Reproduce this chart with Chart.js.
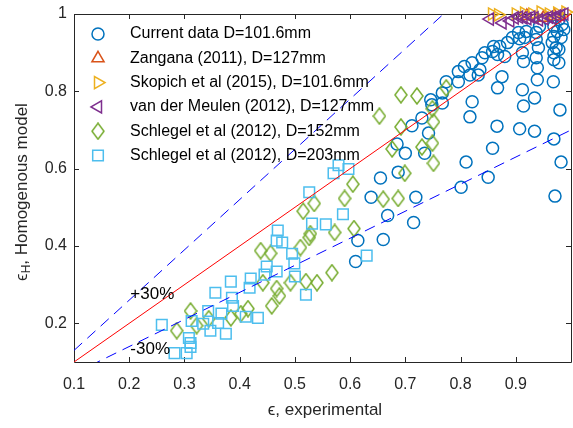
<!DOCTYPE html>
<html>
<head>
<meta charset="utf-8">
<script src="https://cdn.jsdelivr.net/npm/chart.js@4.4.1/dist/chart.umd.min.js"></script>
<style>
  html, body { margin: 0; padding: 0; background: #fff; overflow: hidden; }
  #contenedor { width: 573px; height: 428px; overflow: hidden; position: relative; }
  #grafico { position: absolute; left: 0; top: 0; width: 580px; height: 428px; }
</style>
</head>
<body>
<div id="contenedor"><canvas id="grafico" width="580" height="428"></canvas></div>
<script>
// Current data D=101.6mm
let currentX = [0.610, 0.614, 0.660, 0.668, 0.638, 0.715, 0.719, 0.655, 0.687, 0.700,
                0.735, 0.685, 0.742, 0.712, 0.730, 0.746, 0.748, 0.767, 0.767, 0.774,
                0.796, 0.796, 0.807, 0.821, 0.817, 0.835, 0.832, 0.821, 0.817, 0.810,
                0.801, 0.850, 0.858, 0.866, 0.907, 0.934, 0.969, 0.982, 0.971, 0.867,
                0.875, 0.912, 0.934, 0.914, 0.939, 0.939, 0.968, 0.980, 0.844, 0.839,
                0.860, 0.858, 0.867, 0.871, 0.880, 0.885, 0.894, 0.907, 0.916, 0.905,
                0.919, 0.937, 0.943, 0.937, 0.941, 0.912, 0.914, 0.937, 0.969, 0.975,
                0.984, 0.987, 0.969, 0.982, 0.966, 0.973, 0.978, 0.969, 0.969, 0.978,
                0.978];
let currentY = [0.360, 0.414, 0.417, 0.479, 0.526, 0.461, 0.526, 0.576, 0.591, 0.640,
                0.640, 0.664, 0.692, 0.711, 0.731, 0.778, 0.765, 0.796, 0.770, 0.825,
                0.825, 0.851, 0.864, 0.874, 0.842, 0.856, 0.842, 0.773, 0.734, 0.617,
                0.552, 0.578, 0.653, 0.710, 0.703, 0.697, 0.677, 0.617, 0.529, 0.809,
                0.838, 0.804, 0.783, 0.762, 0.830, 0.861, 0.825, 0.752, 0.900, 0.887,
                0.916, 0.903, 0.895, 0.916, 0.890, 0.926, 0.939, 0.936, 0.939, 0.952,
                0.955, 0.952, 0.968, 0.934, 0.913, 0.900, 0.877, 0.887, 0.968, 0.955,
                0.973, 0.960, 0.942, 0.939, 0.926, 0.913, 0.908, 0.900, 0.882, 0.874,
                0.986];

// Zangana (2011), D=127mm
let zanganaX = [0.920, 0.950, 0.970];
let zanganaY = [0.995, 0.990, 0.995];

// Skopich et al (2015), D=101.6mm
let skopichX = [0.857, 0.868, 0.900, 0.915, 0.930, 0.945, 0.960, 0.975, 0.990];
let skopichY = [1.000, 0.998, 1.000, 1.002, 1.000, 1.005, 1.000, 1.002, 1.005];

// van der Meulen (2012), D=127mm
let meulenX = [0.853, 0.876, 0.890, 0.898, 0.906, 0.914, 0.921, 0.928, 0.934, 0.942,
               0.952, 0.960, 0.966, 0.975, 0.982, 0.988];
let meulenY = [0.987, 0.977, 0.982, 0.990, 0.992, 0.990, 0.988, 0.992, 0.990, 0.985,
               0.988, 0.992, 0.990, 0.995, 0.997, 1.000];

// Schlegel et al (2012), D=152mm
let schlegel152X = [0.286, 0.311, 0.322, 0.344, 0.384, 0.402, 0.415, 0.438, 0.456, 0.442,
                    0.467, 0.458, 0.472, 0.492, 0.510, 0.515, 0.526, 0.528, 0.535, 0.520,
                    0.540, 0.567, 0.572, 0.590, 0.605, 0.607, 0.653, 0.660, 0.687, 0.676,
                    0.699, 0.692, 0.721, 0.692, 0.730, 0.749, 0.749, 0.751, 0.751, 0.774];
let schlegel152Y = [0.181, 0.232, 0.194, 0.212, 0.214, 0.225, 0.238, 0.388, 0.381, 0.305,
                    0.290, 0.245, 0.271, 0.305, 0.396, 0.490, 0.422, 0.432, 0.510, 0.308,
                    0.305, 0.331, 0.435, 0.523, 0.560, 0.445, 0.736, 0.521, 0.523, 0.651,
                    0.588, 0.791, 0.788, 0.708, 0.656, 0.666, 0.755, 0.721, 0.614, 0.809];

// Schlegel et al (2012), D=203mm
let schlegel203X = [0.259, 0.282, 0.304, 0.308, 0.311, 0.311, 0.313, 0.334, 0.343, 0.347,
                    0.356, 0.361, 0.367, 0.375, 0.384, 0.386, 0.388, 0.411, 0.418, 0.420,
                    0.433, 0.445, 0.449, 0.467, 0.467, 0.469, 0.477, 0.495, 0.499, 0.500,
                    0.520, 0.526, 0.531, 0.556, 0.579, 0.570, 0.597, 0.587, 0.630];
let schlegel203Y = [0.196, 0.123, 0.123, 0.162, 0.149, 0.139, 0.206, 0.199, 0.232, 0.181,
                    0.279, 0.201, 0.225, 0.173, 0.308, 0.266, 0.245, 0.217, 0.292, 0.316,
                    0.214, 0.326, 0.347, 0.334, 0.414, 0.440, 0.409, 0.380, 0.355, 0.321,
                    0.274, 0.539, 0.458, 0.456, 0.609, 0.588, 0.599, 0.482, 0.375];

// Lineas de referencia (1:1 y +/-30%)
let refX = [0.1, 1.0];
let refY = [0.1, 1.0];
let plus30Y = [0.13, 1.3];
let minus30Y = [0.07, 0.7];

// Textos sobre el grafico
let notaTexto = ["+30%", "-30%"];
let notaX = [0.202, 0.202];
let notaY = [0.276, 0.134];

// Ticks de los ejes (el rotulo 1 del eje x queda fuera de la figura)
let ticksX = [0.1, 0.2, 0.3, 0.4, 0.5, 0.6, 0.7, 0.8, 0.9, 1.0];
let ticksXLabels = ["0.1", "0.2", "0.3", "0.4", "0.5", "0.6", "0.7", "0.8", "0.9", ""];
let ticksY = [0.2, 0.4, 0.6, 0.8, 1.0];
let ticksYLabels = ["0.2", "0.4", "0.6", "0.8", "1"];

const FUENTE = "'Liberation Sans', Arial, Helvetica, sans-serif";
// borde derecho del area de ejes (queda fuera de la ventana, como en la figura original)
const BORDE_DERECHO = 577;

function puntos(xs, ys){
	return xs.map((x, i) => ({x: x, y: ys[i]}));
}

// Marcador de diamante (mas alto que ancho, como en MATLAB)
function marcaDiamante(color){
	let c = document.createElement("canvas");
	c.width = 14;
	c.height = 18;
	let g = c.getContext("2d");
	g.strokeStyle = color;
	g.lineWidth = 1.5;
	g.beginPath();
	g.moveTo(7, 1);
	g.lineTo(13, 9);
	g.lineTo(7, 17);
	g.lineTo(1, 9);
	g.closePath();
	g.stroke();
	return c;
}

function serie(label, xs, ys, color, estilo, radio, rotacion, orden){
	return {
		type: "scatter",
		label: label,
		data: puntos(xs, ys),
		borderColor: color,
		backgroundColor: "rgba(0,0,0,0)",
		borderWidth: 1.5,
		pointStyle: estilo,
		pointRadius: radio,
		pointRotation: rotacion,
		clip: false,
		order: orden
	};
}

function linea(xs, ys, color, guiones){
	return {
		type: "line",
		data: puntos(xs, ys),
		borderColor: color,
		borderWidth: 1,
		borderDash: guiones,
		pointRadius: 0,
		fill: false,
		order: 0
	};
}

// Marco de los ejes con ticks hacia adentro
const marco = {
	id: "marco",
	beforeDatasetsDraw(chart){
		const ctx = chart.ctx;
		const a = chart.chartArea;
		const sx = chart.scales.x, sy = chart.scales.y;
		ctx.save();
		ctx.strokeStyle = "#262626";
		ctx.lineWidth = 1;
		ctx.beginPath();
		ctx.rect(Math.round(a.left) + 0.5, Math.round(a.top) + 0.5,
		         Math.round(a.right - a.left), Math.round(a.bottom - a.top));
		ticksX.forEach(v => {
			let px = Math.round(sx.getPixelForValue(v)) + 0.5;
			ctx.moveTo(px, a.bottom); ctx.lineTo(px, a.bottom - 5);
			ctx.moveTo(px, a.top); ctx.lineTo(px, a.top + 5);
		});
		ticksY.forEach(v => {
			let py = Math.round(sy.getPixelForValue(v)) + 0.5;
			ctx.moveTo(a.left, py); ctx.lineTo(a.left + 5, py);
			ctx.moveTo(a.right, py); ctx.lineTo(a.right - 5, py);
		});
		ctx.stroke();
		ctx.restore();
	}
};

// Titulos de ejes, textos +/-30% y leyenda
const textos = {
	id: "textos",
	afterDraw(chart){
		const ctx = chart.ctx;
		const sx = chart.scales.x, sy = chart.scales.y;
		ctx.save();

		// eje x
		ctx.fillStyle = "#262626";
		ctx.font = "17px " + FUENTE;
		ctx.textAlign = "center";
		ctx.textBaseline = "middle";
		ctx.fillText("\u03F5, experimental", 325, 410);

		// eje y con subindice
		let partes = [
			{t: "\u03F5", f: "17px " + FUENTE, dy: 0},
			{t: "H", f: "12px " + FUENTE, dy: 5},
			{t: ", Homogenous model", f: "17px " + FUENTE, dy: 0}
		];
		let total = 0;
		partes.forEach(p => { ctx.font = p.f; p.w = ctx.measureText(p.t).width; total += p.w; });
		ctx.translate(22, 192);
		ctx.rotate(-Math.PI / 2);
		ctx.textAlign = "left";
		let pos = -total / 2;
		partes.forEach(p => {
			ctx.font = p.f;
			ctx.fillText(p.t, pos, p.dy);
			pos += p.w;
		});
		ctx.setTransform(1, 0, 0, 1, 0, 0);

		// +30% / -30%
		ctx.fillStyle = "#000";
		ctx.font = "17px " + FUENTE;
		ctx.textAlign = "left";
		notaTexto.forEach((t, i) => {
			ctx.fillText(t, sx.getPixelForValue(notaX[i]), sy.getPixelForValue(notaY[i]));
		});

		// leyenda sin caja
		ctx.font = "16px " + FUENTE;
		let fila = 0;
		chart.data.datasets.forEach(ds => {
			if(!ds.label) return;
			let y = 34 + fila * 24.3;
			ctx.strokeStyle = ds.borderColor;
			ctx.lineWidth = ds.borderWidth;
			ctx.fillStyle = "rgba(0,0,0,0)";
			Chart.helpers.drawPoint(ctx, {
				pointStyle: ds.pointStyle,
				radius: ds.pointRadius,
				rotation: ds.pointRotation,
				borderWidth: ds.borderWidth
			}, 98, y);
			ctx.fillStyle = "#000";
			ctx.fillText(ds.label, 130, y);
			fila++;
		});
		ctx.restore();
	}
};

let grafico = new Chart("grafico", {
	data: {
		datasets: [
			serie("Current data D=101.6mm", currentX, currentY, "#0072BD", "circle", 6, 0, 6),
			serie("Zangana (2011), D=127mm", zanganaX, zanganaY, "#D95319", "triangle", 7, 0, 5),
			serie("Skopich et al (2015), D=101.6mm", skopichX, skopichY, "#EDB120", "triangle", 7, 90, 4),
			serie("van der Meulen (2012), D=127mm", meulenX, meulenY, "#7E2F8E", "triangle", 7, -90, 3),
			serie("Schlegel et al (2012), D=152mm", schlegel152X, schlegel152Y, "#77AC30", marcaDiamante("#77AC30"), 7, 0, 2),
			serie("Schlegel et al (2012), D=203mm", schlegel203X, schlegel203Y, "#4DBEEE", "rect", 7.5, 0, 1),
			linea(refX, refY, "#FF0000", []),
			linea(refX, plus30Y, "#0000FF", [11, 7]),
			linea(refX, minus30Y, "#0000FF", [11, 7])
		]
	},
	options: {
		responsive: false,
		animation: false,
		events: [],
		layout: {padding: {top: 14, right: 3, left: 0, bottom: 0}},
		plugins: {legend: {display: false}, tooltip: {enabled: false}},
		scales: {
			x: {
				type: "linear",
				min: 0.1,
				max: 1.0,
				afterBuildTicks: s => { s.ticks = ticksX.map(v => ({value: v})); },
				afterFit: s => { s.height = 66; s.paddingLeft = 0; s.paddingRight = 0; },
				grid: {display: false, drawTicks: false},
				border: {display: false},
				ticks: {
					color: "#262626",
					font: {family: FUENTE, size: 16},
					padding: 13,
					maxRotation: 0,
					autoSkip: false,
					callback: (v, i) => ticksXLabels[i]
				}
			},
			y: {
				type: "linear",
				min: 0.1,
				max: 1.0,
				afterBuildTicks: s => { s.ticks = ticksY.map(v => ({value: v})); },
				afterFit: s => { s.width = 74; s.paddingTop = 0; s.paddingBottom = 0; },
				grid: {display: false, drawTicks: false},
				border: {display: false},
				ticks: {
					color: "#262626",
					font: {family: FUENTE, size: 16},
					padding: 7,
					autoSkip: false,
					callback: (v, i) => ticksYLabels[i]
				}
			}
		}
	},
	plugins: [marco, textos]
});

// Se ajusta el relleno derecho para que el borde quede en BORDE_DERECHO
let desfase = grafico.chartArea.right - BORDE_DERECHO;
if(Math.abs(desfase) > 0.5){
	grafico.options.layout.padding.right += desfase;
	grafico.update();
}
</script>
</body>
</html>
